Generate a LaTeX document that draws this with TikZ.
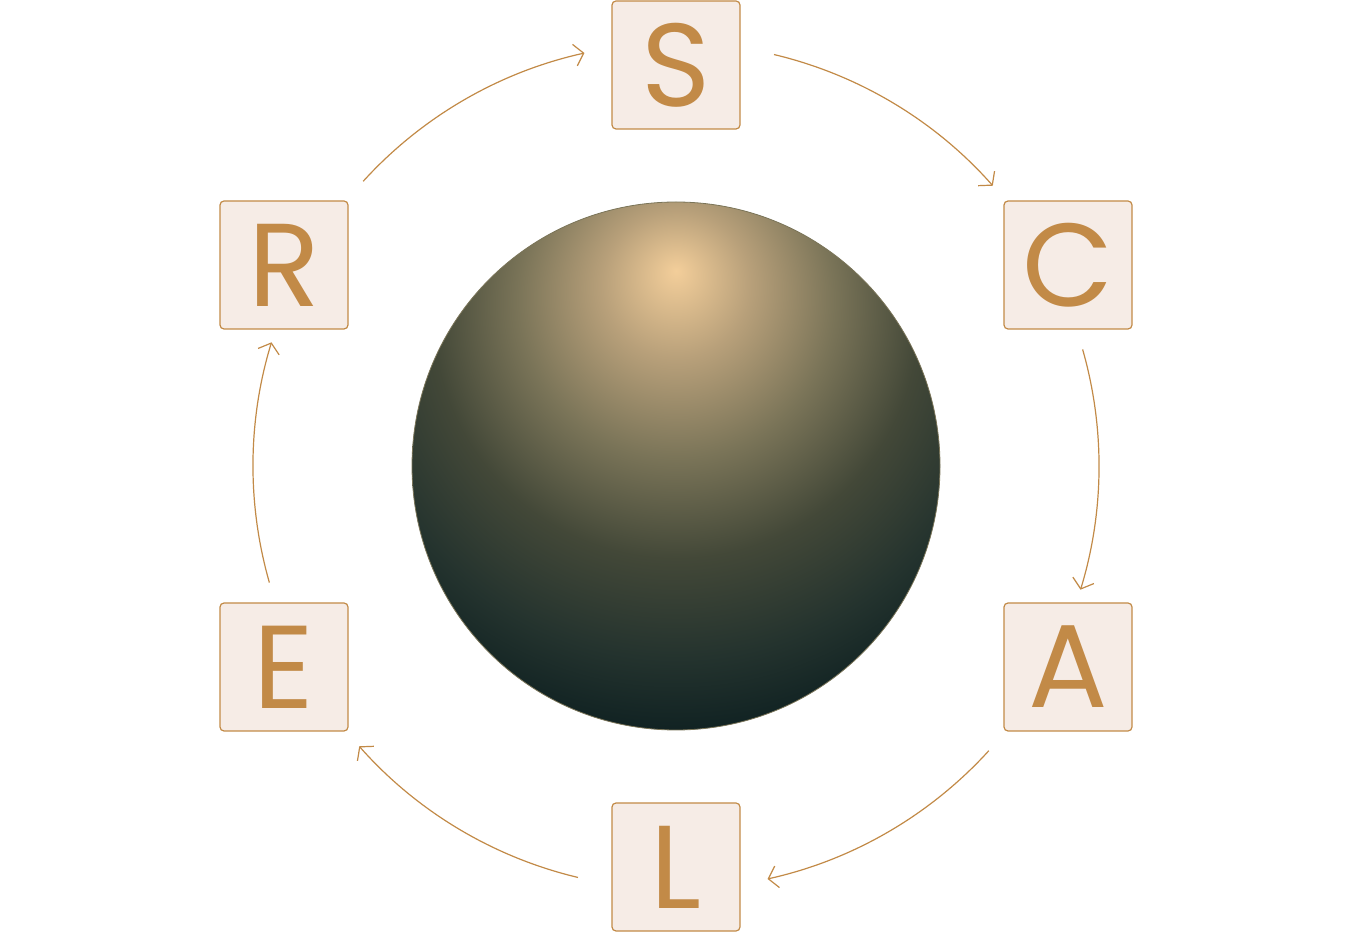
\documentclass[tikz,border=0pt]{standalone}
\usepackage{fontspec}
\setmainfont{Poppins}
\usetikzlibrary{arrows.meta}
\definecolor{gold}{HTML}{C28A47}
\definecolor{boxfill}{HTML}{F6ECE6}
\definecolor{s0}{HTML}{F3CE9A}
\definecolor{s1}{HTML}{B8A07A}
\definecolor{s2}{HTML}{7A7458}
\definecolor{s3}{HTML}{434838}
\definecolor{s4}{HTML}{24332E}
\definecolor{s5}{HTML}{06191C}
\pgfdeclareradialshading{sph}{\pgfpoint{0bp}{18.5bp}}{%
color(0bp)=(s0);
color(7bp)=(s1);
color(15bp)=(s2);
color(23bp)=(s3);
color(31bp)=(s4);
color(40bp)=(s5);
color(100bp)=(s5)}
\begin{document}
\begin{tikzpicture}[x=1pt,y=1pt,
  box/.style={draw=gold,fill=boxfill,rounded corners=4pt,minimum size=128pt,inner sep=0pt,line width=1.2pt,text=gold,font=\fontsize{118}{118}\selectfont},
  arr/.style={draw=gold,line width=1.2pt,-{Straight Barb[length=9pt,width=22pt]}}]
\useasboundingbox (0,0) rectangle (1352,932);
\coordinate (O) at (676,466);
\shade[shading=sph] (O) circle (264);
\draw[draw=s2,line width=0.8pt] (O) circle (264);
\node[box] (S) at (676,867) {S};
\node[box] (C) at (1068,667) {C};
\node[box] (A) at (1068,265) {A};
\node[box] (L) at (676,65) {L};
\node[box] (E) at (284,265) {E};
\node[box] (R) at (284,667) {R};
\draw[arr] ([shift={(76.6:423)}]O) arc[start angle=76.6,end angle=41.5,radius=423];
\draw[arr] ([shift={(16:423)}]O) arc[start angle=16,end angle=-17,radius=423];
\draw[arr] ([shift={(-42.3:423)}]O) arc[start angle=-42.3,end angle=-77.5,radius=423];
\draw[arr] ([shift={(-103.4:423)}]O) arc[start angle=-103.4,end angle=-138.5,radius=423];
\draw[arr] ([shift={(-164:423)}]O) arc[start angle=-164,end angle=-197,radius=423];
\draw[arr] ([shift={(137.7:423)}]O) arc[start angle=137.7,end angle=102.5,radius=423];
\end{tikzpicture}
\end{document}
